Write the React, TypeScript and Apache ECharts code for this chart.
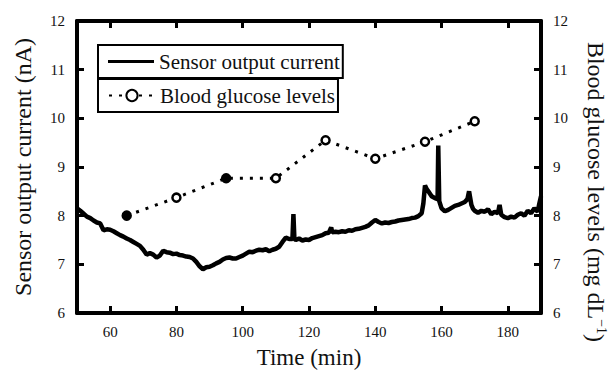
import React, { useEffect, useRef } from "react";
import * as echarts from "echarts";

const xTicks = [60, 80, 100, 120, 140, 160, 180];
const yTicks = [6, 7, 8, 9, 10, 11, 12];

const sensorTime = [
  50, 51, 52, 53, 54, 55, 56, 57, 58, 59, 60, 61, 62, 63, 64, 65, 66, 67, 68, 69,
  70, 71, 72, 73, 74, 75, 76, 77, 78, 79, 80, 81, 82, 83, 84, 85, 86, 87, 88, 89,
  90, 91, 92, 93, 94, 95, 96, 97, 98, 99, 100, 101, 102, 103, 104, 105, 106, 107, 108, 109,
  110, 111, 112, 113, 114, 115, 115.3, 115.6, 116, 117, 118, 119, 120, 121, 122, 123, 124, 125, 126, 126.7,
  127, 128, 129, 130, 131, 132, 133, 134, 135, 136, 137, 138, 139, 140, 141, 142, 143, 144, 145, 146,
  147, 148, 149, 150, 151, 152, 153, 154, 154.5, 155, 155.5, 156, 157, 158, 158.8, 159, 159.3, 160, 161, 162,
  163, 164, 165, 166, 167, 167.8, 168.3, 169, 169.5, 170, 171, 172, 173, 174, 175, 176, 177, 177.5, 178, 179,
  180, 181, 182, 183, 184, 185, 186, 187, 188, 189, 189.5, 190,
];
const sensorCurrent = [
  8.15, 8.1, 8.04, 7.98, 7.95, 7.9, 7.86, 7.84, 7.7, 7.72, 7.71, 7.68, 7.64, 7.6, 7.57, 7.53, 7.5, 7.46, 7.42, 7.38,
  7.3, 7.2, 7.23, 7.2, 7.14, 7.18, 7.28, 7.25, 7.24, 7.21, 7.22, 7.19, 7.18, 7.16, 7.15, 7.12, 7.05, 6.96, 6.9, 6.94,
  6.95, 6.98, 7.02, 7.05, 7.1, 7.13, 7.14, 7.12, 7.12, 7.15, 7.18, 7.22, 7.26, 7.25, 7.28, 7.3, 7.29, 7.31, 7.27, 7.3,
  7.32, 7.36, 7.46, 7.55, 7.52, 7.52, 8.03, 7.52, 7.5, 7.53, 7.49, 7.51, 7.5, 7.54, 7.56, 7.58, 7.6, 7.64, 7.65, 7.76,
  7.66, 7.67, 7.66, 7.68, 7.67, 7.7, 7.69, 7.72, 7.73, 7.75, 7.77, 7.8, 7.86, 7.91, 7.87, 7.84, 7.86, 7.85, 7.87, 7.88,
  7.9, 7.91, 7.92, 7.93, 7.95, 7.96, 7.99, 8.05, 8.25, 8.62, 8.55, 8.5, 8.4, 8.36, 8.34, 9.44, 8.3, 8.15, 8.09, 8.12,
  8.16, 8.2, 8.22, 8.25, 8.28, 8.34, 8.5, 8.22, 8.14, 8.1, 8.06, 8.1, 8.08, 8.13, 8.03, 8.08, 8.05, 8.22, 8.02, 7.97,
  7.95, 7.98, 7.96, 8.02, 8.05, 8.0, 8.1, 8.05, 8.15, 8.08, 8.25, 8.4,
];

const glucoseTime = [65, 80, 95, 110, 125, 140, 155, 170];
const glucoseLevel = [8.0, 8.37, 8.77, 8.77, 9.55, 9.17, 9.52, 9.94];
const glucoseFilled = [true, false, true, false, false, false, false, false];

const FONT = "Liberation Serif";

export default function App() {
  const ref = useRef<HTMLDivElement>(null);
  useEffect(() => {
    if (!ref.current) return;
    const chart = echarts.init(ref.current, undefined, { renderer: "svg" });
    const axisLine = { show: true, lineStyle: { color: "#000", width: 4 } };
    const axisTick = { show: true, inside: true, length: 7, lineStyle: { color: "#000", width: 3 } };
    const label = { color: "#111", fontFamily: FONT, fontSize: 15 };
    const legendText = { color: "#111", fontFamily: FONT, fontSize: 21 };
    chart.setOption({
      animation: false,
      backgroundColor: "#fff",
      grid: { left: 77, right: 72, top: 21, bottom: 63, containLabel: false },
      legend: [
        {
          data: [{ name: "Sensor output current", icon: "rect" }],
          left: 98,
          top: 45,
          orient: "vertical",
          padding: [6, 3, 6, 10],
          borderColor: "#000",
          borderWidth: 2,
          borderRadius: 0,
          itemWidth: 46,
          itemHeight: 3,
          itemStyle: { color: "#000" },
          textStyle: legendText,
        },
        {
          data: ["Blood glucose levels"],
          left: 98,
          top: 79,
          orient: "vertical",
          padding: [6, 3, 6, 10],
          borderColor: "#000",
          borderWidth: 2,
          borderRadius: 0,
          itemWidth: 46,
          itemHeight: 14,
          textStyle: legendText,
        },
      ],
      xAxis: [
        {
          type: "value",
          min: 50,
          max: 190,
          position: "bottom",
          name: "Time (min)",
          nameLocation: "middle",
          nameGap: 33,
          nameTextStyle: { color: "#111", fontFamily: FONT, fontSize: 23 },
          axisLine,
          axisTick: { ...axisTick, customValues: xTicks },
          axisLabel: { ...label, margin: 11, customValues: xTicks },
          splitLine: { show: false },
        },
        {
          type: "value",
          min: 50,
          max: 190,
          position: "top",
          axisLine,
          axisTick: { ...axisTick, customValues: xTicks },
          axisLabel: { show: false },
          splitLine: { show: false },
        },
      ],
      yAxis: [
        {
          type: "value",
          min: 6,
          max: 12,
          interval: 1,
          position: "left",
          name: "Sensor output current (nA)",
          nameLocation: "middle",
          nameGap: 42,
          nameTextStyle: { color: "#111", fontFamily: FONT, fontSize: 24 },
          axisLine,
          axisTick: { ...axisTick, customValues: yTicks },
          axisLabel: { ...label, margin: 12, customValues: yTicks },
          splitLine: { show: false },
        },
        {
          type: "value",
          min: 6,
          max: 12,
          interval: 1,
          position: "right",
          axisLine,
          axisTick: { ...axisTick, customValues: yTicks },
          axisLabel: { ...label, margin: 12, customValues: yTicks },
          splitLine: { show: false },
        },
      ],
      graphic: [
        {
          type: "text",
          x: 596,
          y: 192,
          rotation: -Math.PI / 2,
          style: {
            text: "Blood glucose levels (mg dL{sup|−1})",
            fill: "#111",
            fontFamily: FONT,
            fontSize: 24,
            align: "center",
            verticalAlign: "middle",
            rich: {
              sup: { fontFamily: FONT, fontSize: 14, verticalAlign: "top", padding: [0, 0, 10, 0] },
            },
          },
        },
      ],
      series: [
        {
          name: "Sensor output current",
          type: "line",
          xAxisIndex: 0,
          yAxisIndex: 0,
          data: sensorTime.map((t, i) => [t, sensorCurrent[i]]),
          symbol: "none",
          showSymbol: false,
          lineStyle: { color: "#000", width: 4.5 },
          itemStyle: { color: "#000" },
          z: 2,
        },
        {
          name: "Blood glucose levels",
          type: "line",
          xAxisIndex: 0,
          yAxisIndex: 1,
          data: glucoseTime.map((t, i) => ({
            value: [t, glucoseLevel[i]],
            itemStyle: glucoseFilled[i] ? { color: "#000" } : { color: "#fff" },
          })),
          symbol: "circle",
          symbolSize: 8,
          lineStyle: { color: "#000", width: 3, type: [3, 7] },
          itemStyle: { color: "#fff", borderColor: "#000", borderWidth: 2.5 },
          z: 3,
        },
      ],
    });
    return () => chart.dispose();
  }, []);
  return (
    <div
      ref={ref}
      style={{ position: "fixed", left: 0, top: 0, width: 613, height: 376 }}
    />
  );
}
